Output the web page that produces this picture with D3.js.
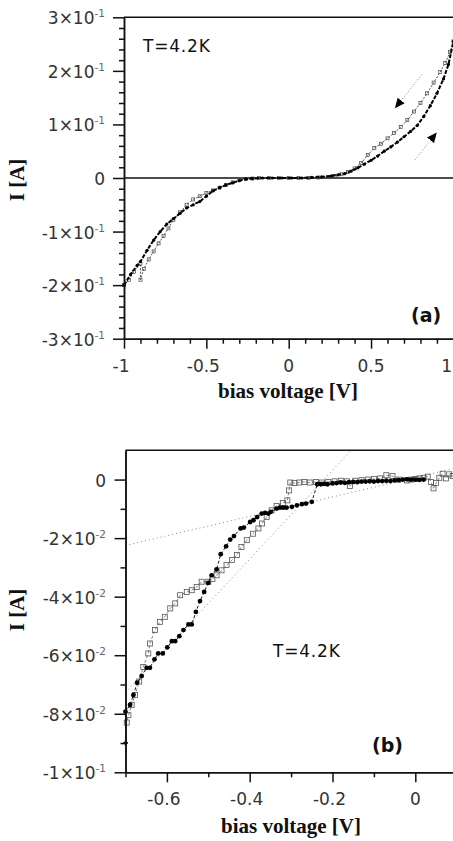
<!DOCTYPE html>
<html>
<head>
<meta charset="utf-8">
<script src="https://cdn.jsdelivr.net/npm/d3@7"></script>
<style>
body { margin: 0; background: #fff; }
svg { display: block; background: #fff; }
</style>
</head>
<body>
<svg class="mainsvg" width="453" height="841"></svg>
<script>
// ---- panel (a) data: bias voltage [V], current [A]
var aSweepUp = [
	[-1.00,-0.200],[-0.96,-0.180],[-0.92,-0.163],[-0.90,-0.156],[-0.86,-0.135],[-0.82,-0.116],
	[-0.78,-0.100],[-0.74,-0.086],[-0.70,-0.076],[-0.66,-0.066],[-0.62,-0.056],[-0.58,-0.050],
	[-0.54,-0.044],[-0.50,-0.034],[-0.46,-0.024],[-0.42,-0.018],[-0.38,-0.013],[-0.34,-0.009],
	[-0.30,-0.005],[-0.26,-0.002],[-0.22,-0.001],[-0.16,0.000],[-0.10,0.000],[-0.04,0.000],
	[0.02,0.000],[0.08,0.000],[0.14,0.001],[0.20,0.002],[0.26,0.004],[0.30,0.006],[0.34,0.008],
	[0.38,0.013],[0.42,0.019],[0.46,0.026],[0.50,0.033],[0.54,0.041],[0.58,0.050],[0.62,0.058],
	[0.66,0.067],[0.70,0.077],[0.74,0.087],[0.78,0.098],[0.82,0.115],[0.86,0.135],[0.90,0.158],
	[0.94,0.185],[0.97,0.212],[1.00,0.255]
];
var aSweepDown = [
	[1.00,0.255],[0.98,0.235],[0.95,0.215],[0.92,0.198],[0.88,0.178],[0.84,0.158],[0.80,0.140],
	[0.76,0.124],[0.72,0.108],[0.68,0.095],[0.64,0.084],[0.60,0.074],[0.56,0.064],[0.52,0.056],
	[0.48,0.043],[0.44,0.028],[0.40,0.018],[0.36,0.011],[0.32,0.007],[0.28,0.004],[0.24,0.002],
	[0.18,0.001],[0.12,0.000],[0.06,0.000],[0.00,0.000],[-0.06,0.000],[-0.12,0.000],[-0.18,0.000],
	[-0.22,-0.001],[-0.26,-0.002],[-0.30,-0.004],[-0.34,-0.008],[-0.38,-0.013],[-0.42,-0.018],
	[-0.46,-0.023],[-0.50,-0.028],[-0.54,-0.034],[-0.58,-0.040],[-0.62,-0.050],[-0.66,-0.064],
	[-0.70,-0.078],[-0.73,-0.094],[-0.76,-0.108],[-0.79,-0.122],[-0.82,-0.137],[-0.85,-0.152],
	[-0.88,-0.170],[-0.90,-0.190],[-0.90,-0.160],[-0.94,-0.175],[-0.97,-0.190],[-1.00,-0.200]
];
var aArrowDown = [[0.808,0.193],[0.645,0.130]];
var aArrowUp = [[0.767,0.034],[0.899,0.085]];

var aXTicksMajor = [-1,-0.5,0,0.5,1];
var aXLabels = ["-1","-0.5","0","0.5","1"];
var aXTicksMinor = [-0.9,-0.8,-0.7,-0.6,-0.4,-0.3,-0.2,-0.1,0.1,0.2,0.3,0.4,0.6,0.7,0.8,0.9];
var aYTicksMajor = [0.3,0.2,0.1,0,-0.1,-0.2,-0.3];
var aYLabels = [["3","-1"],["2","-1"],["1","-1"],["0",null],["-1","-1"],["-2","-1"],["-3","-1"]];
var aYTicksMinor = [0.28,0.26,0.24,0.22,0.18,0.16,0.14,0.12,0.08,0.06,0.04,0.02,
	-0.02,-0.04,-0.06,-0.08,-0.12,-0.14,-0.16,-0.18,-0.22,-0.24,-0.26,-0.28];

// ---- panel (b) data
var bSweepUp = [
	[-0.700,-0.0900],[-0.700,-0.0793],[-0.689,-0.0770],[-0.681,-0.0736],[-0.672,-0.0694],
	[-0.661,-0.0671],[-0.649,-0.0643],[-0.641,-0.0643],[-0.630,-0.0614],[-0.621,-0.0594],
	[-0.610,-0.0594],[-0.599,-0.0573],[-0.588,-0.0552],[-0.580,-0.0552],[-0.570,-0.0535],
	[-0.560,-0.0514],[-0.548,-0.0495],[-0.540,-0.0495],[-0.530,-0.0452],[-0.520,-0.0415],
	[-0.510,-0.0384],[-0.500,-0.0353],[-0.492,-0.0327],[-0.480,-0.0307],[-0.470,-0.0255],
	[-0.457,-0.0228],[-0.447,-0.0205],[-0.438,-0.0193],[-0.422,-0.0167],[-0.414,-0.0164],
	[-0.399,-0.0145],[-0.391,-0.0139],[-0.382,-0.0128],[-0.371,-0.0116],[-0.363,-0.0114],
	[-0.355,-0.0116],[-0.349,-0.0110],[-0.335,-0.0099],[-0.327,-0.0096],[-0.319,-0.0096],
	[-0.311,-0.0096],[-0.298,-0.0093],[-0.286,-0.0088],[-0.274,-0.0084],[-0.264,-0.0082],
	[-0.250,-0.0076],[-0.237,-0.0016],[-0.228,-0.0016],[-0.220,-0.0015],[-0.212,-0.0016],
	[-0.200,-0.0013],[-0.190,-0.0012],[-0.180,-0.0010],[-0.170,-0.0011],[-0.160,-0.0009],
	[-0.150,-0.0008],[-0.140,-0.0009],[-0.130,-0.0007],[-0.120,-0.0007],[-0.110,-0.0006],
	[-0.100,-0.0007],[-0.090,-0.0005],[-0.080,-0.0005],[-0.070,-0.0004],[-0.060,-0.0005],
	[-0.050,-0.0003],[-0.040,-0.0002],[-0.030,0.0000],[-0.020,0.0001],[-0.010,0.0000],
	[0.000,0.0000],[0.010,-0.0001],[0.020,0.0000]
];
var bSweepDown = [
	[0.090,0.0012],[0.082,0.0018],[0.074,0.0004],[0.066,0.0020],[0.058,0.0006],[0.050,-0.0012],
	[0.044,-0.0030],[0.038,-0.0008],[0.030,0.0010],[0.020,0.0006],[0.010,0.0004],[0.000,0.0002],
	[-0.010,0.0000],[-0.020,-0.0003],[-0.040,0.0000],[-0.055,0.0012],[-0.070,0.0015],
	[-0.085,0.0004],[-0.100,0.0002],[-0.115,0.0000],[-0.130,-0.0002],[-0.145,-0.0004],
	[-0.158,-0.0022],[-0.165,-0.0006],[-0.180,-0.0004],[-0.195,-0.0006],[-0.210,-0.0008],
	[-0.225,-0.0010],[-0.240,-0.0008],[-0.255,-0.0010],[-0.268,-0.0008],[-0.280,-0.0010],
	[-0.292,-0.0012],[-0.302,-0.0010],[-0.305,-0.0037],[-0.309,-0.0071],[-0.320,-0.0080],
	[-0.335,-0.0090],[-0.347,-0.0105],[-0.359,-0.0128],[-0.370,-0.0150],[-0.379,-0.0167],
	[-0.392,-0.0185],[-0.407,-0.0207],[-0.420,-0.0230],[-0.431,-0.0258],[-0.443,-0.0275],
	[-0.456,-0.0292],[-0.468,-0.0310],[-0.480,-0.0327],[-0.490,-0.0340],[-0.500,-0.0349],
	[-0.516,-0.0349],[-0.528,-0.0367],[-0.540,-0.0378],[-0.552,-0.0384],[-0.568,-0.0395],
	[-0.580,-0.0423],[-0.592,-0.0440],[-0.605,-0.0469],[-0.617,-0.0486],[-0.629,-0.0514],
	[-0.641,-0.0560],[-0.645,-0.0594],[-0.657,-0.0640],[-0.667,-0.0690],[-0.677,-0.0736],
	[-0.685,-0.0770],[-0.693,-0.0805],[-0.697,-0.0830]
];
var bFitShallow = [[-0.70,-0.0225],[0.10,0.0040]];
var bFitSteep = [[-0.70,-0.0727],[-0.155,0.0100]];

var bXTicksMajor = [-0.6,-0.4,-0.2,0];
var bXLabels = ["-0.6","-0.4","-0.2","0"];
var bXTicksMinor = [-0.7,-0.5,-0.3,-0.1,0.1];
var bYTicksMajor = [0,-0.02,-0.04,-0.06,-0.08,-0.1];
var bYLabels = [["0",null],["-2","-2"],["-4","-2"],["-6","-2"],["-8","-2"],["-1","-1"]];
var bYTicksMinor = [-0.01,-0.03,-0.05,-0.07,-0.09];

var tickFont = '"DejaVu Sans", sans-serif';
var titleFont = '"Liberation Serif", "Times New Roman", serif';
var W = 453;

var svg = d3.select('.mainsvg');

var defs = svg.append('defs');
defs.append('marker')
	.attr('id', 'arrowhead')
	.attr('viewBox', '0 0 10 10')
	.attr('refX', 10)
	.attr('refY', 5)
	.attr('markerWidth', 10)
	.attr('markerHeight', 10)
	.attr('markerUnits', 'userSpaceOnUse')
	.attr('orient', 'auto')
	.append('path')
	.attr('d', 'M0,0.5 L10,5 L0,9.5 Z')
	.attr('fill', '#000');

function drawAxes (x, y, xMajor, xMinor, yMajor, yMinor) {
	var xAxisY = y.range()[0];
	var yAxisX = x.range()[0];

	[[xMinor, 5], [xMajor, 10]].forEach(function (s) {
		var g = svg.append('g')
			.attr('transform', 'translate(0,' + xAxisY + ')')
			.call(d3.axisBottom(x).tickValues(s[0]).tickSize(s[1]).tickSizeOuter(0).tickFormat(''));
		g.selectAll('path, line').attr('stroke', '#111').attr('stroke-width', 1.5);
	});
	[[yMinor, 5], [yMajor, 11]].forEach(function (s) {
		var g = svg.append('g')
			.attr('transform', 'translate(' + yAxisX + ',0)')
			.call(d3.axisLeft(y).tickValues(s[0]).tickSize(s[1]).tickSizeOuter(0).tickFormat(''));
		g.selectAll('path, line').attr('stroke', '#111').attr('stroke-width', 1.5);
	});

	// top frame line
	svg.append('line')
		.attr('x1', yAxisX)
		.attr('x2', W)
		.attr('y1', y.range()[1])
		.attr('y2', y.range()[1])
		.attr('stroke', '#111')
		.attr('stroke-width', 1.5);
}

function drawXLabels (x, ticks, labels, baseY) {
	ticks.forEach(function (t, i) {
		// a label that would run past the right edge is pulled back inside
		var atEdge = x(t) + 6 > W;
		svg.append('text')
			.attr('x', atEdge ? W - 1 : x(t))
			.attr('y', baseY)
			.attr('dx', labels[i].charAt(0) == '-' ? -3 : 0)
			.attr('fill', '#333')
			.attr('font-family', tickFont)
			.attr('font-size', 17)
			.style('text-anchor', atEdge ? 'end' : 'middle')
			.text(labels[i]);
	});
}

function drawYLabels (y, ticks, labels, xEnd) {
	ticks.forEach(function (t, i) {
		var txt = svg.append('text')
			.attr('x', xEnd)
			.attr('y', y(t) + 7)
			.attr('fill', '#333')
			.attr('font-family', tickFont)
			.attr('font-size', 17)
			.style('text-anchor', 'end');
		if (labels[i][1] === null) {
			txt.text(labels[i][0]);
		} else {
			txt.append('tspan').text(labels[i][0] + '×10');
			txt.append('tspan')
				.attr('font-size', 10.5)
				.attr('dy', -7)
				.attr('fill', '#666')
				.text(labels[i][1]);
		}
	});
}

function drawTitles (cx, baseX, cy, baseY) {
	svg.append('text')
		.attr('x', cx)
		.attr('y', baseY)
		.attr('fill', '#111')
		.attr('font-family', titleFont)
		.attr('font-size', 21)
		.attr('font-weight', 'bold')
		.style('text-anchor', 'middle')
		.text('bias voltage [V]');
	svg.append('text')
		.attr('transform', 'translate(' + baseX + ',' + cy + ') rotate(-90)')
		.attr('fill', '#111')
		.attr('font-family', titleFont)
		.attr('font-size', 21)
		.attr('font-weight', 'bold')
		.style('text-anchor', 'middle')
		.text('I [A]');
}

function note (x, y, str, size, bold) {
	svg.append('text')
		.attr('x', x)
		.attr('y', y)
		.attr('fill', '#111')
		.attr('font-family', tickFont)
		.attr('font-size', size)
		.attr('font-weight', bold ? 'bold' : 'normal')
		.attr('letter-spacing', bold ? 0 : 0.8)
		.text(str);
}

// ================= panel (a)
var xA = d3.scaleLinear().domain([-1, 1]).range([124, 453.4]);
var yA = d3.scaleLinear().domain([-0.3, 0.3]).range([338.7, 17.3]);
var lineA = d3.line().x(function (d) { return xA(d[0]); }).y(function (d) { return yA(d[1]); });

svg.append('line')
	.attr('x1', xA(-1))
	.attr('x2', xA(1))
	.attr('y1', yA(0))
	.attr('y2', yA(0))
	.attr('stroke', '#111')
	.attr('stroke-width', 1.5);

svg.append('path')
	.datum(aSweepDown)
	.attr('d', lineA)
	.attr('fill', 'none')
	.attr('stroke', '#555')
	.attr('stroke-width', 1)
	.attr('stroke-dasharray', '2,1.5');
svg.append('g').selectAll('rect')
	.data(aSweepDown)
	.join('rect')
	.attr('x', function (d) { return xA(d[0]) - 1.5; })
	.attr('y', function (d) { return yA(d[1]) - 1.5; })
	.attr('width', 3)
	.attr('height', 3)
	.attr('fill', 'none')
	.attr('stroke', '#444')
	.attr('stroke-width', 0.7);

svg.append('path')
	.datum(aSweepUp)
	.attr('d', lineA)
	.attr('fill', 'none')
	.attr('stroke', '#000')
	.attr('stroke-width', 2)
	.attr('stroke-dasharray', '4,1.5');
svg.append('g').selectAll('circle')
	.data(aSweepUp)
	.join('circle')
	.attr('cx', function (d) { return xA(d[0]); })
	.attr('cy', function (d) { return yA(d[1]); })
	.attr('r', 1.6)
	.attr('fill', '#000');

[aArrowDown, aArrowUp].forEach(function (a) {
	svg.append('path')
		.datum(a)
		.attr('d', lineA)
		.attr('fill', 'none')
		.attr('stroke', '#777')
		.attr('stroke-width', 0.9)
		.attr('stroke-dasharray', '1,2')
		.attr('marker-end', 'url(#arrowhead)');
});

drawAxes(xA, yA, aXTicksMajor, aXTicksMinor, aYTicksMajor, aYTicksMinor);
drawXLabels(xA, aXTicksMajor, aXLabels, 371.5);
drawYLabels(yA, aYTicksMajor, aYLabels, 105);
drawTitles(288, 24, 180, 398);
note(143, 52, 'T=4.2K', 17, false);
note(411, 322, '(a)', 19, true);

// ================= panel (b)
var xB = d3.scaleLinear().domain([-0.7, 0.1]).range([125.5, 456.7]);
var yB = d3.scaleLinear().domain([-0.1, 0.01]).range([772.3, 450.3]);
var lineB = d3.line().x(function (d) { return xB(d[0]); }).y(function (d) { return yB(d[1]); });

[bFitShallow, bFitSteep].forEach(function (f) {
	svg.append('path')
		.datum(f)
		.attr('d', lineB)
		.attr('fill', 'none')
		.attr('stroke', '#777')
		.attr('stroke-width', 0.9)
		.attr('stroke-dasharray', '1,3');
});

svg.append('path')
	.datum(bSweepDown)
	.attr('d', lineB)
	.attr('fill', 'none')
	.attr('stroke', '#666')
	.attr('stroke-width', 0.8)
	.attr('stroke-dasharray', '3,2');
svg.append('g').selectAll('rect')
	.data(bSweepDown)
	.join('rect')
	.attr('x', function (d) { return xB(d[0]) - 2.5; })
	.attr('y', function (d) { return yB(d[1]) - 2.5; })
	.attr('width', 5)
	.attr('height', 5)
	.attr('fill', 'none')
	.attr('stroke', '#555')
	.attr('stroke-width', 0.8);

svg.append('path')
	.datum(bSweepUp)
	.attr('d', lineB)
	.attr('fill', 'none')
	.attr('stroke', '#000')
	.attr('stroke-width', 0.9)
	.attr('stroke-dasharray', '3,2');
svg.append('g').selectAll('path')
	.data(bSweepUp)
	.join('path')
	.attr('transform', function (d) { return 'translate(' + xB(d[0]) + ',' + yB(d[1]) + ')'; })
	.attr('d', function (d, i) {
		return i == 0 ? d3.symbol(d3.symbolCross, 14)() : d3.symbol(d3.symbolCircle, 18)();
	})
	.attr('fill', '#000');

drawAxes(xB, yB, bXTicksMajor, bXTicksMinor, bYTicksMajor, bYTicksMinor);
drawXLabels(xB, bXTicksMajor, bXLabels, 805);
drawYLabels(yB, bYTicksMajor, bYLabels, 106);
drawTitles(291, 24, 610, 833);
note(273, 657, 'T=4.2K', 17, false);
note(372, 752, '(b)', 19, true);
</script>
</body>
</html>
